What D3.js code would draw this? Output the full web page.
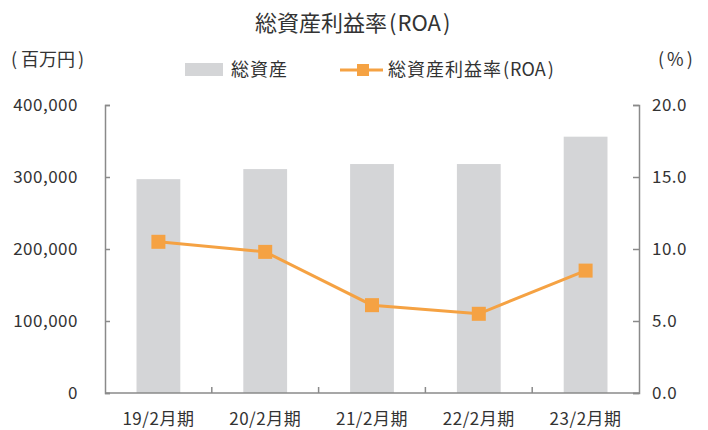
<!DOCTYPE html>
<html><head><meta charset="utf-8">
<script src="https://cdn.jsdelivr.net/npm/d3@7"></script>
<style>body{margin:0;background:#fff}svg{display:block}text{font-family:"Noto Sans CJK JP","Noto Sans",sans-serif;fill:#333}</style>
</head><body><svg id="c" width="708" height="430"></svg>
<script>
const categories = ["19/2月期","20/2月期","21/2月期","22/2月期","23/2月期"];
const totalAssets = [297000, 311000, 318000, 318000, 356000];
const roa = [10.5, 9.8, 6.1, 5.5, 8.5];
const leftTicks = [0, 100000, 200000, 300000, 400000];
const rightTicks = [0, 5, 10, 15, 20];

const svg = d3.select("#c");
const L = 105, R = 639, T = 105, B = 393;
const barColor = "#d4d5d7", lineColor = "#f5a243", axisColor = "#8a8a8a";

const x = d3.scaleBand().domain(categories).range([L, R]).paddingInner(0.59).paddingOuter(0.295);
const yL = d3.scaleLinear().domain([0, 400000]).range([B, T]);
const yR = d3.scaleLinear().domain([0, 20]).range([B, T]);

// bars
svg.append("g").selectAll("rect").data(categories).join("rect")
  .attr("x", d => x(d)).attr("width", x.bandwidth())
  .attr("y", (d,i) => yL(totalAssets[i])).attr("height", (d,i) => B - yL(totalAssets[i]))
  .attr("fill", barColor);

// left axis
const gl = svg.append("g").attr("transform", `translate(${L},0)`)
  .call(d3.axisLeft(yL).tickValues(leftTicks).tickFormat(d3.format(",")).tickSizeInner(-5).tickSizeOuter(-5).tickPadding(27));
// right axis
const gr = svg.append("g").attr("transform", `translate(${R},0)`)
  .call(d3.axisRight(yR).tickValues(rightTicks).tickFormat(d3.format(".1f")).tickSizeInner(-6).tickSizeOuter(-6).tickPadding(13));
[gl, gr].forEach(g => {
  g.selectAll("path,line").attr("stroke", axisColor).attr("stroke-width", 1.5);
  g.selectAll("text").attr("font-size", 17).attr("letter-spacing", 0.5).attr("fill", "#333");
});

// x axis
const step = x.step();
const gx = svg.append("g");
gx.append("line").attr("x1", L).attr("x2", R).attr("y1", B).attr("y2", B).attr("stroke", axisColor).attr("stroke-width", 1.5);
gx.selectAll("line.t").data(categories.slice(1)).join("line").attr("class","t")
  .attr("x1", d => x(d) - step*0.295).attr("x2", d => x(d) - step*0.295)
  .attr("y1", B).attr("y2", B - 6).attr("stroke", axisColor).attr("stroke-width", 1.5);
gx.selectAll("text").data(categories).join("text")
  .attr("x", d => x(d) + x.bandwidth()/2).attr("y", 425)
  .attr("text-anchor", "middle").attr("font-size", 17).attr("letter-spacing", 0.5).text(d => d);

// line
const pts = categories.map((c,i) => [x(c) + x.bandwidth()/2, yR(roa[i])]);
svg.append("path").attr("d", d3.line()(pts)).attr("fill","none").attr("stroke", lineColor).attr("stroke-width", 3);
svg.append("g").selectAll("rect").data(pts).join("rect")
  .attr("x", d => d[0]-7).attr("y", d => d[1]-7).attr("width", 14).attr("height", 14).attr("fill", lineColor);

// title
const title = svg.append("text").attr("x", 255).attr("y", 31).attr("font-size", 22);
title.append("tspan").text("総資産利益率");
title.append("tspan").attr("dx", 2).text("(");
title.append("tspan").attr("dx", 1).text("ROA");
title.append("tspan").attr("dx", 2).text(")");

// unit labels
const unitL = svg.append("text").attr("x", 11).attr("y", 66).attr("font-size", 18);
unitL.append("tspan").text("(");
unitL.append("tspan").attr("dx", 4).text("百万円");
unitL.append("tspan").attr("dx", 3).text(")");

const unitR = svg.append("text").attr("x", 658).attr("y", 66).attr("font-size", 18);
unitR.append("tspan").text("(");
unitR.append("tspan").attr("dx", 3).text("%");
unitR.append("tspan").attr("dx", 3).text(")");

// legend
svg.append("rect").attr("x", 185).attr("y", 63).attr("width", 38).attr("height", 13).attr("fill", barColor);
svg.append("text").attr("x", 231).attr("y", 76).attr("font-size", 18).attr("letter-spacing", 1).text("総資産");
svg.append("line").attr("x1", 340).attr("x2", 383).attr("y1", 70).attr("y2", 70).attr("stroke", lineColor).attr("stroke-width", 3);
svg.append("rect").attr("x", 357).attr("y", 64).attr("width", 12).attr("height", 12).attr("fill", lineColor);
const lg = svg.append("text").attr("x", 388).attr("y", 76).attr("font-size", 18);
lg.append("tspan").attr("letter-spacing", 1).text("総資産利益率");
lg.append("tspan").attr("dx", 1).text("(");
lg.append("tspan").attr("dx", 1).text("ROA");
lg.append("tspan").attr("dx", 2).text(")");
</script></body></html>
